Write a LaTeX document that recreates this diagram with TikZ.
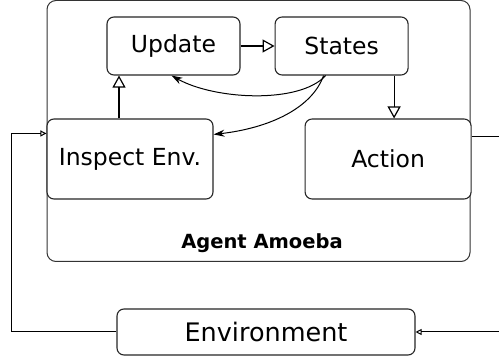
\documentclass[tikz,border=0pt]{standalone}
\usepackage{fontspec}
\setmainfont{DejaVu Sans}
\usetikzlibrary{arrows.meta, positioning}

\begin{document}
\begin{tikzpicture}[x=1pt, y=-1pt,
  blk/.style={rectangle, rounded corners=7pt, draw=black!85, fill=white,
              line width=1.1pt, inner sep=0pt, font=\fontsize{23.5}{28}\selectfont},
  agent/.style={rectangle, rounded corners=9pt, draw=black!80, line width=1pt,
              minimum width=423pt, minimum height=261pt},
  bigarr/.style={-{Triangle[open, length=12pt, width=13pt]}, line width=1.2pt},
  curvarr/.style={-{Stealth[length=11pt, width=7pt]}, line width=1pt},
  envarr/.style={-{Triangle[open, length=6pt, width=6pt]}, line width=1pt}
]
\useasboundingbox (0,0) rectangle (499,363);
\node[agent] (agt) at (258.5,131) {};
\node[font=\fontsize{19.5}{23}\selectfont\bfseries] (lbl) at (262,243) {Agent Amoeba};
\node[blk, minimum width=133pt, minimum height=58pt] (upd) at (173.5,46) {Update};
\node[blk, minimum width=133pt, minimum height=58pt, right=34pt of upd] (sts) {States};
\node[blk, minimum width=166pt, minimum height=80pt] (insp) at (130,159) {Inspect Env.};
\node[blk, minimum width=166pt, minimum height=80pt, right=91pt of insp] (act) {Action};
\node[blk, minimum width=298pt, minimum height=46pt,
      font=\fontsize{25.5}{30}\selectfont] (env) at (266,332) {Environment};

\draw[bigarr] (upd) -- (sts);
\draw[bigarr] ([xshift=-11pt]insp.north) -- ([xshift=-11pt]insp.north |- upd.south);
\draw[bigarr] ([xshift=6pt]act.north |- sts.south) -- ([xshift=6pt]act.north);
\draw[curvarr] ([xshift=-16pt]sts.south) .. controls (300,104) and (215,100) .. ([xshift=-2pt]upd.south);
\draw[curvarr] ([xshift=-18pt]sts.south) .. controls (312,108) and (270,128) .. ([yshift=-16pt]insp.north east);
\draw[envarr] ([yshift=-18pt]act.north east) -- ++(28,0) |- (env.east);
\draw[envarr] (env.west) -- ++(-105,0) |- ([yshift=-15pt]insp.north west);
\end{tikzpicture}
\end{document}
